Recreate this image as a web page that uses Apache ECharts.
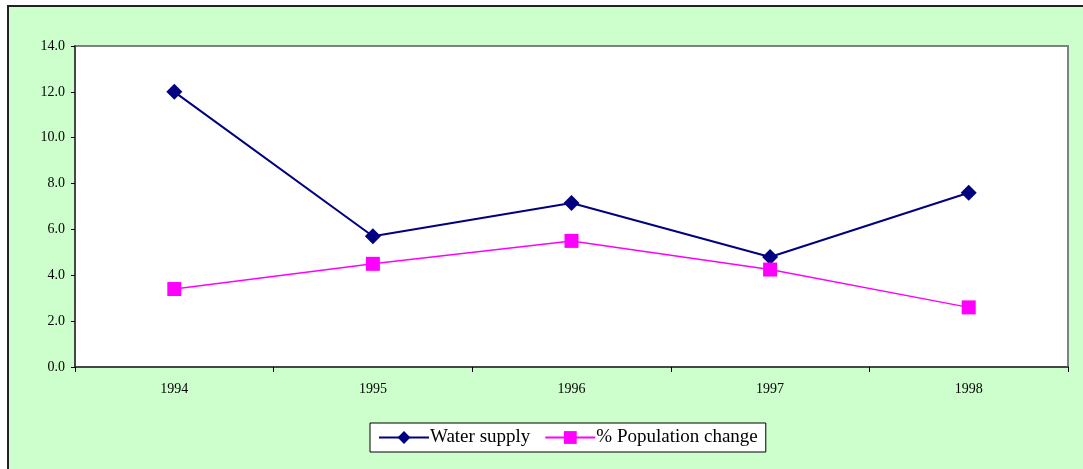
<!DOCTYPE html>
<html>
<head>
<meta charset="utf-8">
<script src="https://cdn.jsdelivr.net/npm/echarts@6/dist/echarts.min.js"></script>
<style>
  html, body { margin: 0; padding: 0; background: #fff; }
  #frame { position: absolute; left: 7px; top: 5px; width: 1100px; height: 500px;
           border: 2px solid #222; background: #CCFFCC; }
  #chart { position: absolute; left: 0; top: 0; width: 1083px; height: 469px; }
</style>
</head>
<body>
<div id="frame"></div>
<div id="chart"></div>
<script>
  var years = ['1994', '1995', '1996', '1997', '1998'];
  var waterSupply = [12.0, 5.7, 7.15, 4.8, 7.6];
  var popChange = [3.4, 4.5, 5.5, 4.25, 2.6];

  var myChart = echarts.init(document.getElementById('chart'));
  var font = '"Liberation Serif", "Times New Roman", serif';

  var option = {
    backgroundColor: 'transparent',
    animation: false,
    textStyle: { fontFamily: font },
    grid: {
      left: 75,
      right: 15,
      top: 46,
      bottom: 102,
      show: true,
      backgroundColor: '#fff',
      borderColor: '#808080',
      borderWidth: 2
    },
    legend: {
      left: 370,
      top: 423,
      itemWidth: 50,
      itemHeight: 16,
      itemGap: 14,
      padding: [5, 8, 5, 8],
      borderColor: '#000',
      borderWidth: 1,
      backgroundColor: '#fff',
      textStyle: { fontFamily: font, fontSize: 19, color: '#000', padding: [0, 0, 0, -4] },
      data: ['Water supply', '% Population change']
    },
    xAxis: {
      type: 'category',
      data: years,
      boundaryGap: true,
      axisLine: { lineStyle: { color: '#333', width: 1.5 } },
      axisTick: { show: true, length: 5, lineStyle: { color: '#000' } },
      axisLabel: { color: '#000', fontSize: 14, fontFamily: font, margin: 15 }
    },
    yAxis: {
      type: 'value',
      min: 0,
      max: 14,
      interval: 2,
      axisLine: { show: true, lineStyle: { color: '#333', width: 1.5 } },
      axisTick: { show: true, length: 4, lineStyle: { color: '#000' } },
      splitLine: { show: false },
      axisLabel: {
        color: '#000', fontSize: 14, fontFamily: font, margin: 10,
        formatter: function (v) { return v.toFixed(1); }
      }
    },
    series: [
      {
        name: 'Water supply',
        type: 'line',
        data: waterSupply,
        symbol: 'diamond',
        symbolSize: 16,
        color: '#000080',
        lineStyle: { color: '#000080', width: 2 },
        itemStyle: { color: '#000080' }
      },
      {
        name: '% Population change',
        type: 'line',
        data: popChange,
        symbol: 'rect',
        symbolSize: 14,
        color: '#FF00FF',
        lineStyle: { color: '#FF00FF', width: 1.5 },
        itemStyle: { color: '#FF00FF' }
      }
    ]
  };

  myChart.setOption(option, true);
</script>
</body>
</html>
